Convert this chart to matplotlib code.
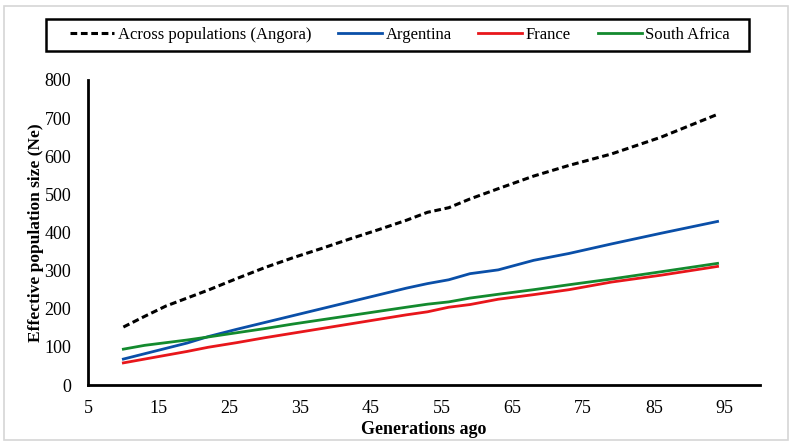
import matplotlib
matplotlib.use("Agg")
import matplotlib.pyplot as plt
from matplotlib.patches import Rectangle

generations = [10, 13, 16, 19, 22, 26, 30, 34, 38, 42, 46, 50, 53, 56, 59, 63, 68, 73, 79, 86, 94]
across = [152, 180, 207, 228, 249, 279, 308, 334, 358, 383, 407, 432, 453, 465, 488, 515, 548, 576, 606, 650, 710]
argentina = [68, 82, 96, 110, 127, 146, 164, 182, 200, 218, 236, 254, 266, 276, 292, 302, 327, 345, 370, 398, 429]
france = [58, 68, 78, 88, 99, 111, 124, 136, 148, 160, 172, 184, 192, 204, 211, 225, 237, 250, 270, 288, 311]
south_africa = [94, 104, 111, 118, 126, 137, 148, 160, 171, 182, 193, 204, 212, 218, 228, 238, 250, 263, 278, 297, 319]
xticks = [5, 15, 25, 35, 45, 55, 65, 75, 85, 95]
yticks = [0, 100, 200, 300, 400, 500, 600, 700, 800]

plt.rcParams['font.family'] = ['Liberation Serif', 'DejaVu Serif']

fig = plt.figure(figsize=(7.96, 4.48), dpi=100)
ax = fig.add_axes([88/796, 1-385/448, (760-88)/796, (385-80)/448])

ax.plot(generations, across, color='black', lw=2.2, ls=(0, (2.2, 1.2)), label='Across populations (Angora)')
ax.plot(generations, argentina, color='#0a4fa8', lw=2.0, label='Argentina')
ax.plot(generations, france, color='#e8161b', lw=2.0, label='France')
ax.plot(generations, south_africa, color='#138a2e', lw=2.0, label='South Africa')

ax.set_xlim(5, 100)
ax.set_ylim(0, 800)
ax.set_xticks(xticks)
ax.set_yticks(yticks)
ax.tick_params(axis='y', length=0, labelsize=13, pad=12)
ax.tick_params(axis='x', length=0, labelsize=13, pad=11)
for s in ['top', 'right']:
    ax.spines[s].set_visible(False)
for s in ['left', 'bottom']:
    ax.spines[s].set_linewidth(2)
    ax.spines[s].set_color('black')

ax.set_xlabel('Generations ago', fontsize=13, fontweight='bold', labelpad=3)
ax.set_ylabel('Effective population size (Ne)', fontsize=12.5, fontweight='bold', labelpad=0)

leg = fig.legend(loc='center', ncol=4,
                 bbox_to_anchor=(400/796, 1-35/448),
                 frameon=False, fontsize=12, handlelength=2.65,
                 handletextpad=0.2, columnspacing=1.6, borderaxespad=0)

fig.patches.append(Rectangle((46/796, 1-51/448), (749-46)/796, 32/448,
                             transform=fig.transFigure, fill=False,
                             edgecolor='black', lw=1.8))

fig.patches.append(Rectangle((4/796, 1-440/448), (788-4)/796, (440-6)/448,
                             transform=fig.transFigure, fill=False,
                             edgecolor='#d6d6d6', lw=1.2))

fig.savefig('out.png', dpi=100)
